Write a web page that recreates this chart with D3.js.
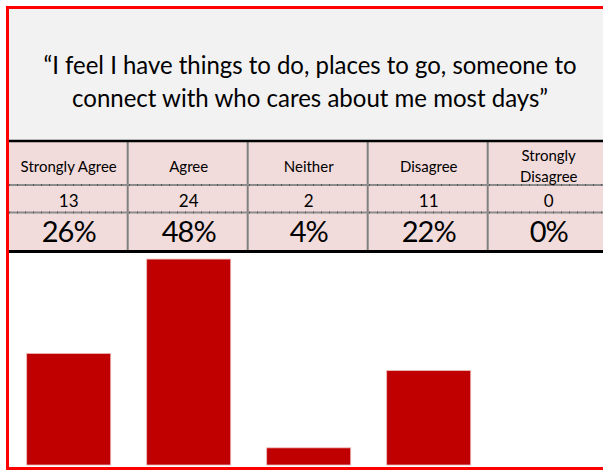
<!DOCTYPE html>
<html>
<head>
<meta charset="utf-8">
<script src="https://cdn.jsdelivr.net/npm/d3@7/dist/d3.min.js"></script>
<style>
  html, body { margin: 0; padding: 0; background: #ffffff; overflow: hidden; }
  svg { display: block; }
  text { font-family: Lato, "Open Sans", "Liberation Sans", sans-serif; fill: #000; }
</style>
</head>
<body>
<svg id="chart" width="603" height="470"></svg>
<script>
// Survey responses
const titleLines = [
  "\u201cI feel I have things to do, places to go, someone to",
  "connect with who cares about me most days\u201d"
];
const categories = ["Strongly Agree", "Agree", "Neither", "Disagree", "Strongly Disagree"];
const counts = [13, 24, 2, 11, 0];
const shares = [0.26, 0.48, 0.04, 0.22, 0.00];
const yTicks = [0, 0.5];

const svg = d3.select("#chart");

// Layout
const titleBox = { top: 9, bottom: 141 };
const table = { top: 142, row1: 185, row2: 212.5, bottom: 250 };
const plot = { top: 250.5, bottom: 465 };
const right = 612;

const x = d3.scaleBand()
  .domain(categories)
  .range([8.7, 608.7])
  .paddingInner(0.3)
  .paddingOuter(0.15);

const y = d3.scaleLinear()
  .domain(d3.extent(yTicks))
  .range([plot.bottom, plot.top]);

const pct = d3.format(".0%");

// Title panel
svg.append("rect")
  .attr("x", 9).attr("y", titleBox.top)
  .attr("width", right - 9).attr("height", titleBox.bottom - titleBox.top)
  .attr("fill", "#f2f2f2");

const titleWidths = [533, 476];
svg.append("g").selectAll("text")
  .data(titleLines)
  .join("text")
  .attr("x", 310)
  .attr("y", (d, i) => 74 + i * 33)
  .attr("text-anchor", "middle")
  .attr("font-size", 25)
  .attr("textLength", (d, i) => titleWidths[i])
  .attr("lengthAdjust", "spacingAndGlyphs")
  .text(d => d);

// Table
svg.append("rect")
  .attr("x", 9).attr("y", table.top)
  .attr("width", right - 9).attr("height", table.bottom - table.top)
  .attr("fill", "#f2dcdb");

// column dividers
const colEdges = categories.slice(1).map(c => x(c) - x.step() * x.paddingInner() / 2 - 1);
svg.append("g").selectAll("line")
  .data(colEdges)
  .join("line")
  .attr("x1", d => d).attr("x2", d => d)
  .attr("y1", table.top).attr("y2", table.bottom)
  .attr("stroke", "#808080").attr("stroke-width", 2);

// row dividers
const rowLines = svg.append("g");
[table.row1, table.row2].forEach(ry => {
  rowLines.append("line")
    .attr("x1", 9).attr("x2", right).attr("y1", ry).attr("y2", ry)
    .attr("stroke", "#8c8c8c").attr("stroke-width", 2);
  rowLines.append("line")
    .attr("x1", 9).attr("x2", right).attr("y1", ry).attr("y2", ry)
    .attr("stroke", "#5a5a5a").attr("stroke-width", 2)
    .attr("stroke-dasharray", "1,7");
});

// header labels (wrap when too wide for the column)
const header = svg.append("g");
categories.forEach(c => {
  const cx = x(c) + x.bandwidth() / 2;
  const probe = header.append("text").attr("font-size", 15).text(c);
  const wide = probe.node().getComputedTextLength() > x.step() - 18;
  probe.remove();
  const lines = wide ? c.split(" ") : [c];
  lines.forEach((ln, i) => {
    header.append("text")
      .attr("x", cx)
      .attr("y", lines.length === 1 ? 172 : 161 + i * 20.5)
      .attr("text-anchor", "middle")
      .attr("font-size", 15)
      .text(ln);
  });
});

// counts row
svg.append("g").selectAll("text")
  .data(categories)
  .join("text")
  .attr("x", d => x(d) + x.bandwidth() / 2)
  .attr("y", 207)
  .attr("text-anchor", "middle")
  .attr("font-size", 17)
  .text((d, i) => counts[i]);

// percentage row
svg.append("g").selectAll("text")
  .data(categories)
  .join("text")
  .attr("x", d => x(d) + x.bandwidth() / 2)
  .attr("y", 242)
  .attr("text-anchor", "middle")
  .attr("font-size", 29)
  .attr("letter-spacing", -1)
  .text((d, i) => pct(shares[i]));

// heavy rules above and below the table
svg.append("line")
  .attr("x1", 9).attr("x2", right).attr("y1", 141).attr("y2", 141)
  .attr("stroke", "#000").attr("stroke-width", 2.5);
svg.append("line")
  .attr("x1", 9).attr("x2", right).attr("y1", 251.5).attr("y2", 251.5)
  .attr("stroke", "#000").attr("stroke-width", 3);

// Bars
svg.append("g").selectAll("rect")
  .data(categories.map((c, i) => ({ c, v: shares[i] })).filter(d => d.v > 0))
  .join("rect")
  .attr("x", d => x(d.c))
  .attr("y", d => y(d.v))
  .attr("width", x.bandwidth())
  .attr("height", d => y(0) - y(d.v))
  .attr("fill", "#c00000")
  .attr("stroke", "#eab8b8")
  .attr("stroke-width", 0.8);

// outer red frame (its right side lies past the visible edge)
svg.append("path")
  .attr("d", `M${right},7.5 H7.5 V468.5 H${right}`)
  .attr("fill", "none")
  .attr("stroke", "#ff0000")
  .attr("stroke-width", 3);
</script>
</body>
</html>
